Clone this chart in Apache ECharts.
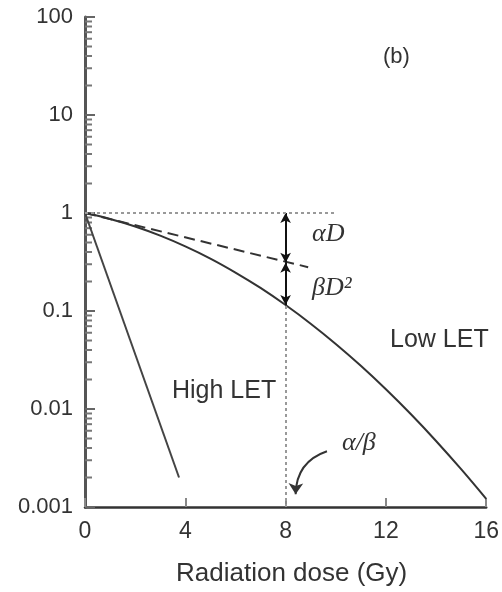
<!DOCTYPE html>
<html>
<head>
<meta charset="utf-8">
<script src="https://cdn.jsdelivr.net/npm/echarts@6/dist/echarts.min.js"></script>
<style>
  html, body { margin: 0; padding: 0; background: #fff; }
  #main { width: 502px; height: 592px; }
</style>
</head>
<body>
<div id="main"></div>
<script>
// survival curves (dose in Gy, surviving fraction)
var doses = [0, 1, 2, 3, 4, 5, 6, 7, 8, 9, 10, 11, 12, 13, 14, 15, 16];
var lowLET = [1.0, 0.870, 0.729, 0.588, 0.457, 0.343, 0.247, 0.172, 0.115, 0.0742, 0.0461, 0.0276, 0.0159, 0.00883, 0.00472, 0.00243, 0.00121];
var highLETDose = [0, 3.75];
var highLETSurv = [1.0, 0.002];
var alphaDose = [0, 8.9];
var alphaSurv = [1.0, 0.28];
var xTicks = [0, 4, 8, 12, 16];
var yTickLabels = ['0.001', '0.01', '0.1', '1', '10', '100'];
var minorTickValues = [];
for (var k = -3; k < 2; k++) {
  for (var m = 2; m < 10; m++) {
    minorTickValues.push(m * Math.pow(10, k));
  }
}

var ink = '#333';
var sansFont = '"Liberation Sans", Arial, sans-serif';
var serifFont = '"Liberation Serif", "Times New Roman", serif';

function pairs(xs, ys) {
  var out = [];
  for (var i = 0; i < xs.length; i++) out.push([xs[i], ys[i]]);
  return out;
}

var chart = echarts.init(document.getElementById('main'));

var option = {
  animation: false,
  backgroundColor: '#fff',
  grid: { left: 85, right: 9, top: 17, bottom: 82 },
  xAxis: {
    type: 'value',
    min: 0,
    max: 16,
    interval: 4,
    name: 'Radiation dose (Gy)',
    nameLocation: 'middle',
    nameGap: 54,
    nameTextStyle: { fontFamily: sansFont, fontSize: 26, color: ink, padding: [0, 0, 0, 12] },
    axisLine: { lineStyle: { color: ink, width: 2.5 } },
    axisTick: { inside: true, length: 9, lineStyle: { color: '#888', width: 2 } },
    axisLabel: {
      fontFamily: sansFont, fontSize: 23, color: ink, margin: 13,
      formatter: function (v) { return xTicks.indexOf(v) >= 0 ? String(v) : ''; }
    },
    splitLine: { show: false }
  },
  yAxis: {
    type: 'log',
    logBase: 10,
    min: 0.001,
    max: 100,
    axisLine: { onZero: false, lineStyle: { color: '#555', width: 3 } },
    axisTick: { inside: true, length: 10, lineStyle: { color: '#666', width: 2 } },
    axisLabel: {
      fontFamily: sansFont, fontSize: 22, color: ink, margin: 12,
      formatter: function (v) {
        var idx = Math.round(Math.log(v) / Math.LN10) + 3;
        return yTickLabels[idx] || '';
      }
    },
    splitLine: { show: false }
  },
  series: [
    {
      // minor log ticks on the y axis
      type: 'custom',
      silent: true,
      data: minorTickValues.map(function (v) { return [0, v]; }),
      renderItem: function (params, api) {
        var p = api.coord([0, api.value(1)]);
        return {
          type: 'line',
          shape: { x1: p[0], y1: p[1], x2: p[0] + 7, y2: p[1] },
          style: { stroke: '#777', lineWidth: 2 }
        };
      },
      z: 1
    },
    {
      name: 'Low LET',
      type: 'line',
      data: pairs(doses, lowLET),
      smooth: 0.4,
      showSymbol: false,
      lineStyle: { color: ink, width: 2 },
      markLine: {
        silent: true,
        symbol: ['arrow', 'arrow'],
        symbolSize: [8, 10],
        label: { show: false },
        lineStyle: { color: '#111', width: 2, type: 'solid' },
        data: [
          [{ coord: [8, 1] }, { coord: [8, 0.31] }],
          [{ coord: [8, 0.31] }, { coord: [8, 0.115] }]
        ]
      }
    },
    {
      name: 'High LET',
      type: 'line',
      data: pairs(highLETDose, highLETSurv),
      showSymbol: false,
      lineStyle: { color: '#444', width: 2 }
    },
    {
      name: 'alphaD',
      type: 'line',
      data: pairs(alphaDose, alphaSurv),
      showSymbol: false,
      lineStyle: { color: '#333', width: 2, type: [11, 6] }
    },
    {
      name: 'guides',
      type: 'line',
      data: [],
      markLine: {
        silent: true,
        symbol: ['none', 'none'],
        label: { show: false },
        lineStyle: { color: '#999', width: 2, type: [3, 3] },
        data: [
          [{ coord: [0, 1] }, { coord: [10, 1] }],
          [{ coord: [8, 0.001] }, { coord: [8, 0.115] }]
        ]
      }
    },
    {
      // curved pointer to the alpha/beta dose
      type: 'lines',
      coordinateSystem: 'cartesian2d',
      silent: true,
      symbol: ['none', 'arrow'],
      symbolSize: 11,
      lineStyle: { color: '#333', width: 2, curveness: -0.35, opacity: 1 },
      data: [
        { coords: [[9.65, 0.0037], [8.4, 0.00135]] }
      ]
    }
  ],
  graphic: [
    { type: 'text', left: 383, top: 46, style: { text: '(b)', fontFamily: sansFont, fontSize: 22, fill: ink } },
    { type: 'text', left: 312, top: 221, style: { text: 'αD', fontFamily: serifFont, fontStyle: 'italic', fontSize: 26, fill: ink } },
    { type: 'text', left: 312, top: 275, style: { text: 'βD²', fontFamily: serifFont, fontStyle: 'italic', fontSize: 26, fill: ink } },
    { type: 'text', left: 390, top: 328, style: { text: 'Low LET', fontFamily: sansFont, fontSize: 25, fill: ink } },
    { type: 'text', left: 172, top: 379, style: { text: 'High LET', fontFamily: sansFont, fontSize: 25, fill: ink } },
    { type: 'text', left: 342, top: 430, style: { text: 'α/β', fontFamily: serifFont, fontStyle: 'italic', fontSize: 26, fill: ink } }
  ]
};

chart.setOption(option);
</script>
</body>
</html>
